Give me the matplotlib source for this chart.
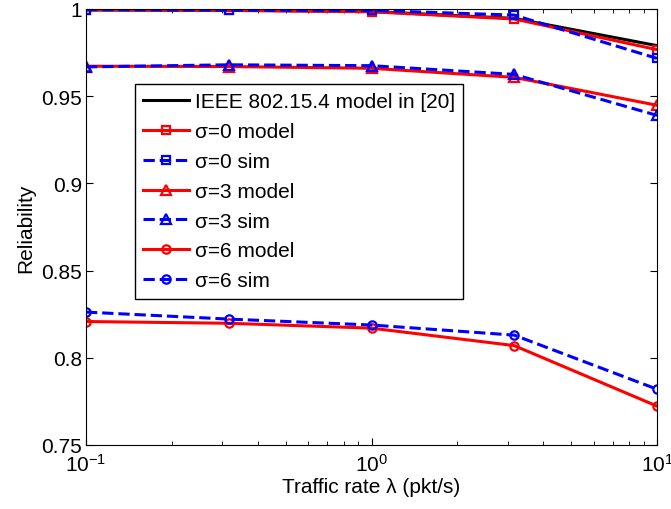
import numpy as np
import matplotlib.pyplot as plt

plt.rcParams['font.family'] = ['Liberation Sans', 'DejaVu Sans']

# traffic rate (pkt/s)
rate = [0.1, 0.316, 1.0, 3.16, 10.0]

# reliability values
ieee_model = [0.9995, 0.9993, 0.9986, 0.9946, 0.9790]
s0_model = [0.9995, 0.9992, 0.9984, 0.9943, 0.9767]
s0_sim = [0.9996, 0.9993, 0.9992, 0.9965, 0.9717]
s3_model = [0.9672, 0.9670, 0.9660, 0.9608, 0.9448]
s3_sim = [0.9668, 0.9680, 0.9675, 0.9625, 0.9390]
s6_model = [0.8208, 0.8198, 0.8170, 0.8070, 0.7723]
s6_sim = [0.8262, 0.8222, 0.8188, 0.8130, 0.7820]

fig = plt.figure(figsize=(6.71, 5.10), dpi=100)
ax = fig.add_axes([86 / 671, 64 / 510, 571 / 671, 436 / 510])

lw = 2.2
mew = 1.6
ax.plot(rate, ieee_model, '-', color='k', lw=lw, label='IEEE 802.15.4 model in [20]')
ax.plot(rate, s0_model, '-', color='r', lw=lw, marker='s', ms=5.5, mew=mew,
        mfc='none', label='σ=0 model')
ax.plot(rate, s0_sim, '--', color='b', lw=lw, marker='s', ms=5.5, mew=mew,
        mfc='none', label='σ=0 sim')
ax.plot(rate, s3_model, '-', color='r', lw=lw, marker='^', ms=7, mew=mew,
        mfc='none', label='σ=3 model')
ax.plot(rate, s3_sim, '--', color='b', lw=lw, marker='^', ms=7, mew=mew,
        mfc='none', label='σ=3 sim')
ax.plot(rate, s6_model, '-', color='r', lw=lw, marker='o', ms=6, mew=mew,
        mfc='none', label='σ=6 model')
ax.plot(rate, s6_sim, '--', color='b', lw=lw, marker='o', ms=6, mew=mew,
        mfc='none', label='σ=6 sim')

ax.set_xscale('log')
ax.set_xlim(0.1, 10)
ax.set_ylim(0.75, 1.0)
ax.set_yticks([0.75, 0.8, 0.85, 0.9, 0.95, 1.0])
ax.set_yticklabels(['0.75', '0.8', '0.85', '0.9', '0.95', '1'])
ax.tick_params(which='both', direction='in', top=True, right=True, labelsize=15)
ax.tick_params(axis='x', which='major', pad=6)
ax.tick_params(axis='y', which='major', pad=3)
ax.tick_params(which='major', length=5)
ax.tick_params(which='minor', length=3)
ax.set_xlabel('Traffic rate λ (pkt/s)', fontsize=15, labelpad=1)
ax.set_ylabel('Reliability', fontsize=15, labelpad=4)

leg = ax.legend(loc='upper left', bbox_to_anchor=(0.085, 0.828), fontsize=15,
                frameon=True, fancybox=False, edgecolor='k', framealpha=1,
                handlelength=2.2, handletextpad=0.3, labelspacing=0.52,
                borderpad=0.4, borderaxespad=0)
leg.get_frame().set_linewidth(1)

fig.savefig('out.png', dpi=100)
